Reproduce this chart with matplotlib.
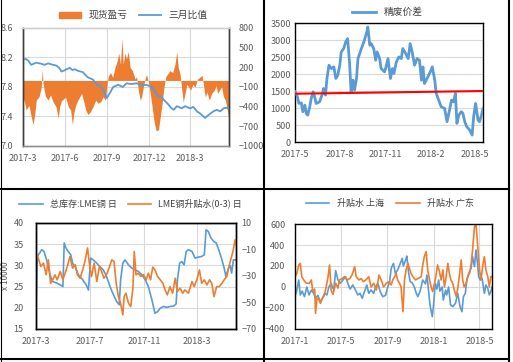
import pandas as pd
import matplotlib
matplotlib.use('Agg')
import matplotlib.pyplot as plt
from matplotlib.lines import Line2D
from matplotlib.patches import Patch

plt.rcParams['font.family'] = ['Noto Sans CJK SC', 'DejaVu Sans']

BLUE = '#5B9BD5'
ORANGE = '#ED7D31'
TICK = '#595959'
GRID = '#d9d9d9'

# ---- panel 1: 现货盈亏 (right axis) / 三月比值 (left axis), days from 2017-03-01
pnl_days = [0, 4, 7, 13, 18, 22, 26, 29, 35, 40, 42, 44, 49, 55, 60, 66, 72, 77, 80, 84,
            89, 93, 99, 104, 108, 111, 115, 120, 128, 133, 137, 142, 147, 153, 159, 164,
            170, 175, 180, 183, 186, 191, 196, 201, 206, 209, 213, 216, 219, 223, 226,
            230, 234, 239, 245, 248, 252, 256, 259, 263, 268, 270, 274, 279, 283, 287,
            291, 296, 299, 304, 308, 312, 316, 321, 327, 332, 336, 339, 343, 347, 350,
            354, 358, 362, 366, 371, 376, 381, 385, 391, 394, 398, 402, 407, 412, 418,
            422, 425, 429, 434, 438, 442, 445, 450]
pnl_vals = [-250, -350, -450, -380, -550, -675, -500, -300, -250, -100, 170, -60, -240,
            -300, -220, -330, -400, -575, -400, -310, -280, -250, -400, -450, -675, -500,
            -380, -300, -200, -330, -450, -520, -480, -400, -300, -350, -320, -250, -300,
            -100, 60, 120, 50, 200, 300, 420, 250, 640, 250, 420, 330, 440, 200, 150, 20,
            60, -150, -300, -250, -100, 60, 80, -20, -250, -450, -650, -770, -750, -600,
            -350, -100, 60, 100, 150, 120, 250, 440, 200, 100, -150, -330, -200, -60,
            -100, -150, -60, -100, 20, 40, 80, -50, -250, -180, -300, -200, -150, -80,
            -200, -150, -100, -250, -300, -400, -600]
ratio_days = [0, 6, 11, 18, 29, 40, 47, 55, 66, 73, 79, 84, 89, 95, 102, 108, 113, 120,
              131, 137, 142, 153, 161, 168, 175, 180, 183, 186, 190, 197, 208, 218, 226,
              237, 248, 259, 270, 281, 288, 296, 301, 307, 318, 323, 329, 336, 347, 354,
              365, 372, 380, 387, 398, 405, 416, 423, 431, 438, 445, 450]
ratio_vals = [8.17, 8.18, 8.16, 8.10, 8.13, 8.115, 8.10, 8.12, 8.10, 8.09, 8.06, 8.01,
              8.02, 8.04, 8.06, 8.03, 8.04, 8.02, 8.00, 7.96, 7.93, 7.90, 7.83, 7.82, 7.76,
              7.70, 7.65, 7.68, 7.72, 7.80, 7.83, 7.80, 7.85, 7.84, 7.85, 7.82, 7.83, 7.80,
              7.74, 7.67, 7.68, 7.63, 7.56, 7.52, 7.49, 7.54, 7.51, 7.54, 7.51, 7.53, 7.47,
              7.44, 7.38, 7.42, 7.47, 7.49, 7.47, 7.51, 7.52, 7.50]

# ---- panel 2: 精废价差, days from 2017-05-01
spread_days = [0, 4, 8, 13, 16, 20, 23, 26, 30, 33, 37, 40, 43, 50, 56, 58, 62, 65, 69,
               74, 79, 83, 87, 91, 94, 99, 103, 107, 111, 114, 118, 121, 125, 128, 135,
               141, 146, 148, 152, 155, 160, 164, 167, 172, 175, 182, 185, 189, 194, 198,
               201, 206, 211, 216, 219, 225, 230, 234, 238, 243, 248, 253, 257, 260, 263,
               270, 275, 279, 284, 287, 292, 297, 304, 309, 314, 318, 322, 326, 329, 333,
               338, 341, 345, 349, 355, 360, 363, 367, 372, 375, 379, 382]
spread_vals = [1477, 1380, 1135, 1150, 890, 1085, 840, 790, 1037, 1280, 1477, 1330, 1135,
               1183, 1428, 1575, 1380, 1868, 2260, 2160, 2210, 1868, 1966, 2260, 2650, 2748,
               2944, 3040, 2308, 1477, 1820, 1525, 1868, 2455, 2748, 2993, 3237, 3384, 2846,
               2895, 2748, 2406, 2650, 2455, 2160, 2063, 2210, 2455, 1868, 2160, 2015, 2357,
               2504, 2455, 2748, 2602, 2455, 2895, 2650, 2260, 2455, 2406, 1820, 2210, 1720,
               1917, 2063, 2210, 1820, 1428, 1232, 1037, 988, 597, 940, 1232, 1183, 1428,
               548, 792, 890, 850, 597, 450, 352, 205, 743, 1135, 645, 597, 792, 988]
ref_days = [0, 382]
ref_vals = [1420, 1500]

# ---- panel 3: 总库存:LME铜 (x10000, left) / LME铜升贴水(0-3) (right), days from 2017-03-01
stock_days = [0, 3, 8, 13, 18, 23, 28, 33, 38, 43, 48, 55, 61, 64, 68, 73, 79, 83, 89, 96,
              106, 114, 119, 124, 130, 138, 145, 153, 160, 168, 176, 183, 189, 192, 197,
              202, 210, 217, 225, 232, 240, 248, 255, 263, 270, 276, 282, 289, 297, 304,
              312, 318, 321, 326, 331, 336, 341, 346, 354, 361, 366, 376, 382, 386, 391,
              397, 403, 409, 416, 422, 427, 431, 437, 441, 444, 448, 454]
stock_vals = [19.9, 32.1, 32.9, 33.7, 33.3, 31.7, 29.4, 27.4, 26.2, 26.0, 25.8, 25.4, 25.0,
              35.3, 34.1, 33.3, 32.5, 30.5, 29.7, 27.8, 26.6, 25.4, 24.2, 31.7, 31.3, 30.5,
              29.7, 28.9, 27.4, 25.0, 23.0, 21.5, 20.7, 26.6, 30.5, 31.3, 30.1, 29.4, 28.9,
              28.6, 27.8, 26.6, 25.0, 21.9, 18.7, 19.1, 19.9, 20.3, 20.1, 20.3, 20.4, 20.9,
              26.6, 30.5, 30.9, 30.1, 33.3, 33.7, 33.3, 31.7, 31.9, 32.1, 32.5, 38.4, 38.0,
              36.5, 35.7, 35.3, 33.3, 31.3, 29.4, 27.4, 29.4, 29.9, 28.2, 31.3, 31.3]
lme_days = [0, 5, 11, 17, 23, 28, 33, 38, 43, 48, 55, 61, 66, 71, 77, 83, 89, 94, 100, 106,
            111, 117, 121, 126, 132, 138, 144, 149, 154, 160, 167, 172, 177, 182, 187, 192,
            197, 200, 204, 210, 215, 220, 223, 227, 232, 238, 244, 250, 255, 260, 265, 270,
            276, 282, 288, 293, 298, 304, 310, 316, 321, 327, 333, 338, 346, 354, 359, 365,
            371, 376, 382, 388, 394, 399, 404, 410, 416, 422, 427, 433, 438, 442, 447, 452,
            454]
lme_vals = [-12.7, -16.5, -22.8, -20.3, -29.1, -17.8, -35.5, -32.9, -29.1, -32.9, -26.6,
            -32.9, -27.9, -22.8, -15.3, -24.1, -21.6, -29.1, -31.7, -25.4, -19.0, -8.9,
            -20.3, -30.4, -20.3, -34.2, -22.8, -26.6, -31.7, -29.1, -22.8, -17.8, -19.0,
            -35.5, -45.6, -50.6, -59.4, -45.6, -43.0, -50.6, -53.1, -39.2, -11.5, -29.1,
            -27.9, -30.4, -29.0, -32.9, -27.9, -32.9, -23.3, -25.4, -30.4, -32.9, -35.5,
            -40.5, -44.3, -38.0, -43.0, -31.7, -41.8, -39.2, -43.0, -40.5, -43.0, -34.2,
            -38.0, -32.9, -25.4, -35.5, -32.9, -36.7, -32.9, -35.5, -45.6, -38.0, -38.0,
            -35.5, -32.9, -30.4, -22.8, -17.8, -11.5, -2.6, -6.4]

# ---- panel 4: 升贴水 上海 / 广东, days from 2017-01-01
sh_days = [0, 5, 10, 14, 19, 25, 31, 37, 43, 49, 54, 60, 67, 72, 78, 84, 89, 95, 102, 107,
           113, 119, 126, 133, 139, 145, 152, 159, 165, 171, 177, 183, 189, 194, 200, 207,
           212, 218, 224, 231, 238, 244, 249, 253, 259, 264, 270, 277, 282, 285, 291, 294,
           299, 303, 308, 314, 319, 323, 329, 336, 343, 347, 352, 355, 361, 364, 369, 373,
           378, 381, 387, 390, 396, 399, 404, 409, 415, 422, 428, 434, 439, 443, 448, 452,
           457, 463, 467, 472, 476, 480, 483, 487, 492, 498, 502, 507, 511, 515, 518]
sh_vals = [-92, -29, 67, -76, -40, -92, 0, -76, -30, -60, -108, -80, -140, -110, -60, -76,
           0, 35, -29, 156, 67, 35, 67, 98, 35, -20, 19, -29, -76, -60, -108, -40, 19, -60,
           -29, -60, 0, 35, -44, -92, -80, 0, 51, 178, 225, 130, 162, 225, 273, 200, 257,
           295, 130, 51, 40, 0, -60, -92, -40, 67, 30, 114, -60, -171, -283, -187, 35, -20,
           67, -40, 0, -124, -30, -76, 0, -171, -187, -156, -60, -187, -235, -92, -60, 67,
           130, 178, 289, 194, 352, 225, 98, 67, 83, -60, 19, -13, -76, -44, 0]
gd_days = [0, 5, 10, 14, 18, 23, 30, 38, 43, 47, 52, 54, 58, 63, 67, 72, 77, 82, 87, 91,
           95, 100, 107, 113, 117, 124, 130, 137, 144, 150, 157, 161, 168, 174, 180, 187,
           194, 200, 207, 214, 221, 227, 233, 240, 247, 253, 257, 262, 266, 270, 275, 279,
           284, 288, 292, 297, 301, 305, 310, 317, 323, 332, 336, 340, 345, 349, 354, 358,
           362, 367, 371, 375, 380, 384, 389, 393, 397, 402, 406, 410, 415, 419, 424, 428,
           432, 437, 441, 445, 450, 454, 459, 463, 467, 472, 476, 480, 485, 489, 494, 498,
           502, 507, 511, 515, 518]
gd_vals = [98, 130, 210, 225, 98, 67, 35, 35, 67, -44, -20, -251, -108, -120, -156, -108,
           -80, 0, 98, 210, -29, -70, 35, -10, 67, 80, 98, 67, 80, 114, 194, 98, 67, 80, 51,
           70, 98, 0, 35, -29, 114, 67, 0, 35, 51, 19, 67, 98, 130, 67, 35, 0, -235, 67, 162,
           225, 178, 130, 98, 67, 80, 98, 210, 289, 337, 162, 67, 0, -44, 35, 114, 210, 146,
           67, 162, 0, 83, 225, 130, 67, 35, -29, -92, -13, 98, 257, 67, 0, 35, 98, 130, 210,
           352, 575, 600, 416, 178, 67, 210, 289, 162, 98, 0, 98, 98]


def to_dates(start, days):
    return pd.Timestamp(start) + pd.to_timedelta(days, unit='D')


def style_axis(ax, color='black', ypad=3):
    for s in ax.spines.values():
        s.set_color(color)
        s.set_linewidth(1.0)
    ax.tick_params(length=0, labelsize=6.5, labelcolor=TICK)
    ax.tick_params(axis='x', pad=6)
    ax.tick_params(axis='y', pad=ypad)


def set_months(ax, months):
    ax.set_xticks([pd.Timestamp(m) for m in months])
    ax.set_xticklabels([pd.Timestamp(m).strftime('%Y-') + str(pd.Timestamp(m).month) for m in months])


fig = plt.figure(figsize=(5.13, 3.62), dpi=100)

# ---------------- top left
ax1 = fig.add_axes([0.0448, 0.5967, 0.4016, 0.326])
ax1b = ax1.twinx()
t = to_dates('2017-03-01', pnl_days)
ax1.fill_between(t, 0, pnl_vals, color=ORANGE, linewidth=0, zorder=2)
ax1.set_ylim(-1000, 800)
ax1.set_yticks(range(-1000, 801, 300))
for g in [-550, -100, 350]:
    ax1.axhline(g, color=GRID, lw=0.8, zorder=1)
ax1.set_xlim(pd.Timestamp('2017-03-01'), to_dates('2017-03-01', [450])[0])
set_months(ax1, ['2017-03-01', '2017-06-01', '2017-09-01', '2017-12-01', '2018-03-01'])
ax1.grid(axis='x', color=GRID, lw=0.8, zorder=1)
ax1.set_axisbelow(True)
ax1b.plot(to_dates('2017-03-01', ratio_days), ratio_vals, color=BLUE, lw=1.3)
ax1b.set_ylim(7.0, 8.6)
ax1b.set_yticks([7.0, 7.4, 7.8, 8.2, 8.6])
ax1b.set_yticklabels(['7.0', '7.4', '7.8', '8.2', '8.6'])
ax1.yaxis.tick_right()
ax1b.yaxis.tick_left()
for a in (ax1, ax1b):
    style_axis(a, '#404040', ypad=7)
    a.spines['top'].set_color('#d0d0d0')
    a.spines['bottom'].set_color('#909090')
fig.legend(handles=[Patch(color=ORANGE, label='现货盈亏'),
                    Line2D([], [], color=BLUE, lw=1.3, label='三月比值')],
           loc='center', bbox_to_anchor=(0.26, 0.958), ncol=2, frameon=False,
           fontsize=7, handlelength=2.2, handleheight=0.6, columnspacing=1.2,
           labelcolor='#404040')

# ---------------- top right
ax2 = fig.add_axes([0.575, 0.6077, 0.3665, 0.3287])
ax2.plot(to_dates('2017-05-01', spread_days), spread_vals, color=BLUE, lw=2.0, zorder=3)
ax2.plot(to_dates('2017-05-01', ref_days), ref_vals, color='#FF0000', lw=1.5, zorder=4)
ax2.set_ylim(0, 3500)
ax2.set_yticks(range(0, 3501, 500))
ax2.set_xlim(pd.Timestamp('2017-05-01'), to_dates('2017-05-01', [382])[0])
set_months(ax2, ['2017-05-01', '2017-08-01', '2017-11-01', '2018-02-01', '2018-05-01'])
ax2.grid(axis='y', color=GRID, lw=0.8)
ax2.set_axisbelow(True)
style_axis(ax2, ypad=3)
fig.legend(handles=[Line2D([], [], color=BLUE, lw=2.0, label='精废价差')],
           loc='center', bbox_to_anchor=(0.755, 0.966), frameon=False, fontsize=7,
           handlelength=2.4, labelcolor='#404040')

# ---------------- bottom left
ax3 = fig.add_axes([0.0702, 0.0912, 0.3899, 0.2928])
ax3.plot(to_dates('2017-03-01', stock_days), stock_vals, color=BLUE, lw=1.2)
ax3.set_ylim(15, 40)
ax3.set_yticks(range(15, 41, 5))
ax3.set_xlim(pd.Timestamp('2017-03-01'), to_dates('2017-03-01', [454])[0])
set_months(ax3, ['2017-03-01', '2017-07-01', '2017-11-01', '2018-03-01'])
ax3.grid(color=GRID, lw=0.8)
ax3.set_axisbelow(True)
ax3.set_ylabel('x 10000', fontsize=6, color=TICK, labelpad=2)
ax3b = ax3.twinx()
ax3b.plot(to_dates('2017-03-01', lme_days), lme_vals, color=ORANGE, lw=1.2)
ax3b.set_ylim(-70, 10)
ax3b.set_yticks(range(-70, 11, 20))
style_axis(ax3, ypad=9)
style_axis(ax3b, ypad=4)
fig.legend(handles=[Line2D([], [], color=BLUE, lw=1.2, label='总库存:LME铜 日'),
                    Line2D([], [], color=ORANGE, lw=1.2, label='LME铜升贴水(0-3) 日')],
           loc='center', bbox_to_anchor=(0.255, 0.437), ncol=2, frameon=False,
           fontsize=6.5, handlelength=2.6, columnspacing=1.2, labelcolor='#404040')

# ---------------- bottom right
ax4 = fig.add_axes([0.575, 0.0912, 0.384, 0.290])
ax4.plot(to_dates('2017-01-01', sh_days), sh_vals, color=BLUE, lw=1.2)
ax4.plot(to_dates('2017-01-01', gd_days), gd_vals, color=ORANGE, lw=1.2)
ax4.set_ylim(-400, 600)
ax4.set_yticks(range(-400, 601, 200))
ax4.set_xlim(pd.Timestamp('2017-01-01'), to_dates('2017-01-01', [518])[0])
set_months(ax4, ['2017-01-01', '2017-05-01', '2017-09-01', '2018-01-01', '2018-05-01'])
ax4.grid(color=GRID, lw=0.8)
ax4.set_axisbelow(True)
style_axis(ax4, ypad=7)
fig.legend(handles=[Line2D([], [], color=BLUE, lw=1.2, label='升贴水 上海'),
                    Line2D([], [], color=ORANGE, lw=1.2, label='升贴水 广东')],
           loc='center', bbox_to_anchor=(0.76, 0.437), ncol=2, frameon=False,
           fontsize=6.5, handlelength=2.6, columnspacing=1.4, labelcolor='#404040')

# panel frame lines
W, H = 513.0, 362.0
frame = dict(color='black', lw=1.5, transform=fig.transFigure)
fig.add_artist(Line2D([264 / W, 264 / W], [0, 1], **frame))
fig.add_artist(Line2D([0, 509 / W], [1 - 189 / H, 1 - 189 / H], **frame))
fig.add_artist(Line2D([509 / W, 509 / W], [0, 1], **frame))
fig.add_artist(Line2D([0, 509 / W], [1 - 359 / H, 1 - 359 / H], **frame))
fig.add_artist(Line2D([0.5 / W, 0.5 / W], [0, 1], color='black', lw=0.8, transform=fig.transFigure))

fig.savefig('out.png', dpi=100)
